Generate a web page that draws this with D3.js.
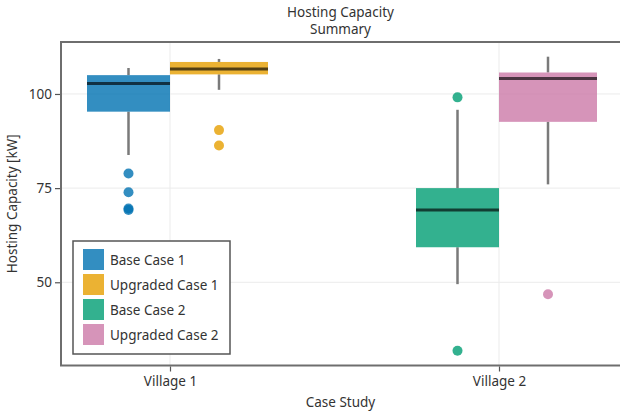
<!DOCTYPE html>
<html>
<head>
<meta charset="utf-8">
<script src="https://cdn.jsdelivr.net/npm/d3@7"></script>
<style>
  html, body { margin: 0; padding: 0; background: #fff; }
  svg { display: block; font-family: "Noto Sans", "Open Sans", sans-serif; }
</style>
</head>
<body>
<svg id="chart" width="620" height="412"></svg>
<script>
// Case studies on the x axis and the four scenarios in the legend
const villages = ["Village 1", "Village 2"];
const seriesNames = ["Base Case 1", "Upgraded Case 1", "Base Case 2", "Upgraded Case 2"];
const seriesVillage = ["Village 1", "Village 1", "Village 2", "Village 2"];
const seriesKind = ["Base", "Upgraded", "Base", "Upgraded"];
const seriesColors = ["#0072B2", "#E69F00", "#009E73", "#CC79A7"];

// Box-plot summaries (kW)
const whiskerLow  = [83.8, 101.1, 49.5, 76.0];
const quartile1   = [95.3, 105.2, 59.3, 92.6];
const medians     = [102.8, 106.6, 69.2, 104.1];
const quartile3   = [105.0, 108.5, 75.0, 105.7];
const whiskerHigh = [106.9, 109.3, 95.8, 109.9];
const outliers    = [[78.9, 73.9, 69.6, 69.2], [90.4, 86.3], [99.1, 31.8], [46.8]];

const yTicks = [50, 75, 100];

const FONT = "13.5px";
const svg = d3.select("#chart");
const plot = { left: 61, right: 620, top: 42, bottom: 365.5 };

const y = d3.scaleLinear().domain([27.9, 113.8]).range([plot.bottom, plot.top]);
const x = d3.scalePoint().domain(villages).range([170, 499]);

// Dodge extents of each scenario's box relative to its village
const dodge = { Base: [-83, 0], Upgraded: [0, 98] };

// Grid lines
const grid = svg.append("g");
grid.selectAll("line.h").data(yTicks).join("line")
  .attr("x1", plot.left).attr("x2", plot.right)
  .attr("y1", d => y(d)).attr("y2", d => y(d))
  .attr("stroke", "#ebebeb").attr("stroke-width", 1);
grid.selectAll("line.v").data(villages).join("line")
  .attr("x1", d => x(d)).attr("x2", d => x(d))
  .attr("y1", plot.top).attr("y2", plot.bottom)
  .attr("stroke", "#ebebeb").attr("stroke-width", 1);

// Boxes
const series = seriesNames.map((name, i) => {
  const cx0 = x(seriesVillage[i]) + dodge[seriesKind[i]][0];
  const cx1 = x(seriesVillage[i]) + dodge[seriesKind[i]][1];
  return { name, i, x0: cx0, x1: cx1, cx: (cx0 + cx1) / 2 };
});

const boxes = svg.append("g").selectAll("g").data(series).join("g");

// whiskers
boxes.append("line")
  .attr("x1", d => d.cx).attr("x2", d => d.cx)
  .attr("y1", d => y(whiskerHigh[d.i])).attr("y2", d => y(quartile3[d.i]))
  .attr("stroke", "#7a7a7a").attr("stroke-width", 2.5);
boxes.append("line")
  .attr("x1", d => d.cx).attr("x2", d => d.cx)
  .attr("y1", d => y(quartile1[d.i])).attr("y2", d => y(whiskerLow[d.i]))
  .attr("stroke", "#7a7a7a").attr("stroke-width", 2.5);

// interquartile box
boxes.append("rect")
  .attr("x", d => d.x0).attr("width", d => d.x1 - d.x0)
  .attr("y", d => y(quartile3[d.i]))
  .attr("height", d => y(quartile1[d.i]) - y(quartile3[d.i]))
  .attr("fill", d => seriesColors[d.i]).attr("fill-opacity", 0.8);

// median
boxes.append("line")
  .attr("x1", d => d.x0).attr("x2", d => d.x1)
  .attr("y1", d => y(medians[d.i])).attr("y2", d => y(medians[d.i]))
  .attr("stroke", "#000").attr("stroke-opacity", 0.65).attr("stroke-width", 3);

// outliers
boxes.selectAll("circle").data(d => outliers[d.i].map(v => ({ v, d }))).join("circle")
  .attr("cx", o => o.d.cx).attr("cy", o => y(o.v)).attr("r", 5)
  .attr("fill", o => seriesColors[o.d.i]).attr("fill-opacity", 0.8);

// Frame
svg.append("rect")
  .attr("x", plot.left).attr("y", plot.top)
  .attr("width", plot.right - plot.left + 2).attr("height", plot.bottom - plot.top)
  .attr("fill", "none").attr("stroke", "#6e6e6e").attr("stroke-width", 2);

// Y axis
const yAxis = svg.append("g").attr("transform", `translate(${plot.left - 1},0)`)
  .call(d3.axisLeft(y).tickValues(yTicks).tickSize(5).tickPadding(3));
yAxis.select(".domain").remove();
yAxis.selectAll(".tick line").attr("stroke", "#555").attr("stroke-width", 1.2);
yAxis.selectAll(".tick text").attr("fill", "#333").style("font-size", FONT)
  .style("font-family", "'Noto Sans', 'Open Sans', sans-serif");

// X axis
const xAxis = svg.append("g").attr("transform", `translate(0,${plot.bottom + 1})`)
  .call(d3.axisBottom(x).tickSize(5).tickPadding(5));
xAxis.select(".domain").remove();
xAxis.selectAll(".tick line").attr("stroke", "#555").attr("stroke-width", 1.2);
xAxis.selectAll(".tick text").attr("fill", "#333").style("font-size", FONT)
  .style("font-family", "'Noto Sans', 'Open Sans', sans-serif");

// Titles
const midX = (plot.left + plot.right) / 2;
svg.append("text").attr("x", midX).attr("y", 17).attr("text-anchor", "middle")
  .attr("fill", "#333").style("font-size", FONT).text("Hosting Capacity");
svg.append("text").attr("x", midX).attr("y", 34).attr("text-anchor", "middle")
  .attr("fill", "#333").style("font-size", FONT).text("Summary");
svg.append("text").attr("x", midX).attr("y", 407).attr("text-anchor", "middle")
  .attr("fill", "#333").style("font-size", FONT).text("Case Study");
svg.append("text")
  .attr("transform", `translate(17,${(plot.top + plot.bottom) / 2}) rotate(-90)`)
  .attr("text-anchor", "middle").attr("fill", "#333").style("font-size", FONT)
  .text("Hosting Capacity [kW]");

// Legend
const legend = svg.append("g").attr("transform", "translate(73,241)");
legend.append("rect").attr("width", 157).attr("height", 113)
  .attr("fill", "#fff").attr("stroke", "#555").attr("stroke-width", 1.5);
const items = legend.selectAll("g").data(seriesNames).join("g")
  .attr("transform", (d, i) => `translate(10,${8 + i * 25})`);
items.append("rect").attr("width", 21).attr("height", 21)
  .attr("fill", (d, i) => seriesColors[i]).attr("fill-opacity", 0.8);
items.append("text").attr("x", 27).attr("y", 15.5)
  .attr("fill", "#333").style("font-size", FONT).text(d => d);
</script>
</body>
</html>
